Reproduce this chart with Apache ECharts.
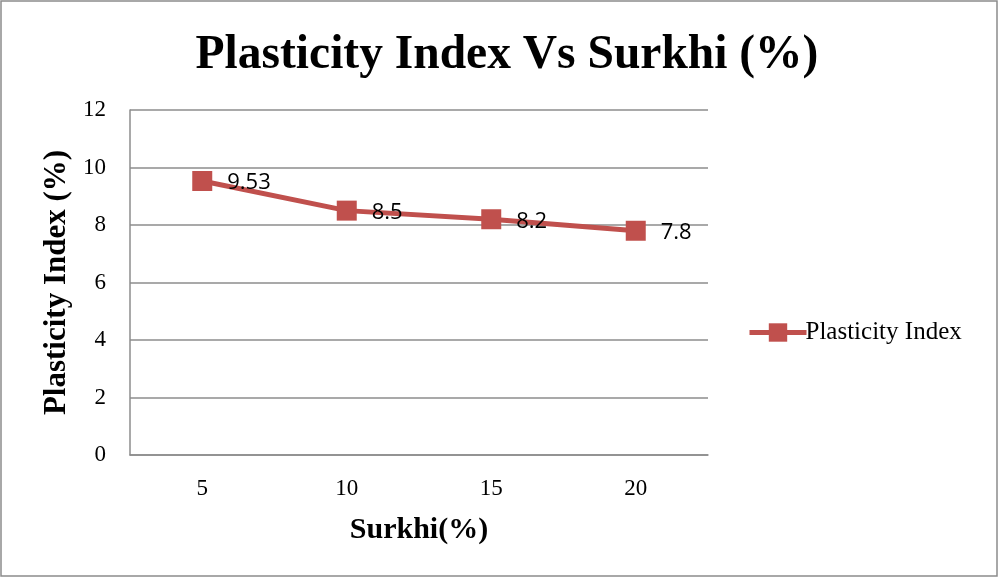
<!DOCTYPE html>
<html>
<head>
<meta charset="utf-8">
<script src="https://cdn.jsdelivr.net/npm/echarts@6/dist/echarts.min.js"></script>
<style>
  html, body { margin: 0; padding: 0; background: #fff; }
  #chart { width: 999px; height: 578px; }
</style>
</head>
<body>
<div id="chart"></div>
<script>
// Surkhi content (%) and the measured plasticity index
const surkhi = ['5', '10', '15', '20'];
const plasticityIndex = [9.53, 8.5, 8.2, 7.8];
const yTicks = [0, 2, 4, 6, 8, 10, 12];

const serif = '"Liberation Serif", "Times New Roman", serif';
const red = '#C0504D';

const chart = echarts.init(document.getElementById('chart'));
chart.setOption({
  animation: false,
  backgroundColor: '#fff',
  graphic: [{
    type: 'rect',
    shape: { x: 1, y: 1, width: 996, height: 575 },
    style: { fill: 'none', stroke: '#8c8c8c', lineWidth: 1.5 },
    silent: true
  }],
  title: {
    text: 'Plasticity Index Vs Surkhi (%)',
    left: 502, top: 27, textAlign: 'center',
    textStyle: { fontFamily: serif, fontWeight: 'bold', fontSize: 47.5, color: '#000' }
  },
  legend: {
    data: ['Plasticity Index'],
    orient: 'vertical',
    left: 747, top: 320,
    padding: 0,
    itemWidth: 57, itemHeight: 23, itemGap: 4,
    lineStyle: { width: 5 },
    textStyle: { fontFamily: serif, fontSize: 25, color: '#000', padding: [0, 0, 0, -6] }
  },
  grid: { left: 130, right: 291, top: 110, bottom: 123 },
  xAxis: {
    type: 'category',
    data: surkhi,
    boundaryGap: true,
    name: 'Surkhi(%)',
    nameLocation: 'middle',
    nameGap: 60,
    nameTextStyle: { fontFamily: serif, fontWeight: 'bold', fontSize: 30, color: '#000' },
    axisLine: { lineStyle: { color: '#8c8c8c', width: 1.5 } },
    axisTick: { show: false },
    axisLabel: { fontFamily: serif, fontSize: 23, color: '#000', margin: 22 }
  },
  yAxis: {
    type: 'value',
    min: yTicks[0], max: yTicks[yTicks.length - 1], interval: 2,
    name: 'Plasticity Index (%)',
    nameLocation: 'middle',
    nameGap: 58,
    nameTextStyle: { fontFamily: serif, fontWeight: 'bold', fontSize: 31, color: '#000' },
    axisLine: { show: true, lineStyle: { color: '#8c8c8c', width: 1.5 } },
    axisTick: { show: false },
    axisLabel: { fontFamily: serif, fontSize: 23, color: '#000', margin: 24 },
    splitLine: { lineStyle: { color: '#8c8c8c', width: 1.5 } }
  },
  series: [{
    name: 'Plasticity Index',
    type: 'line',
    data: plasticityIndex,
    symbol: 'rect',
    symbolSize: 20,
    lineStyle: { color: red, width: 5 },
    itemStyle: { color: red },
    label: {
      show: true,
      position: 'right',
      distance: 15,
      offset: [0, 2],
      fontFamily: '"Open Sans", "Noto Sans", sans-serif',
      fontSize: 22,
      color: '#000',
      formatter: p => String(p.value)
    }
  }]
});
</script>
</body>
</html>
